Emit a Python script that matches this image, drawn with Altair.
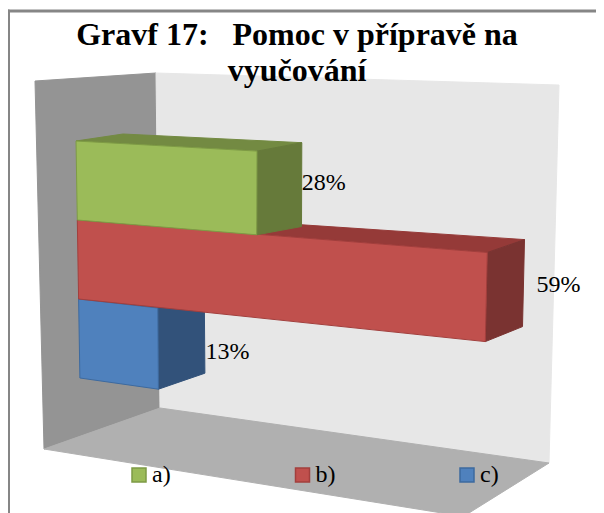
import altair as alt

# ---- values
categories = ["a)", "b)", "c)"]
percent = [28, 59, 13]
label_text = ["28%", "59%", "13%"]
title_lines = ["Gravf 17:\u00a0\u00a0\u00a0Pomoc v přípravě na", "vyučování"]

# ---- styling
front_fill = ["#9BBB59", "#C0504D", "#4F81BD"]
front_edge = ["#7E9B45", "#A23F3D", "#3D6A9F"]
top_fill = ["#738A42", "#953A38", "#3A6090"]
side_fill = ["#667A3A", "#7A3331", "#32527A"]
label_gap = [(0, -2), (13, 1), (1, 11)]
SERIF = "Liberation Serif"


def project(v, c, d):
    """Perspective of the 3D chart: value v (%), row edge c, depth d (0 front, 1 back)."""
    x = 76 + 1.3 * c + 5.976 * v + 0.01744 * v * v - 0.056 * v * c
    y = 141 + 79 * c + v * (0.34 + 0.17 * c + 0.0007 * v)
    if d:
        x += 47 - 0.0028 * v * v
        y -= 7 + 0.0017 * v * v + ([0, 0, 2, 8.7][c] if isinstance(c, int) else 0)
    return [round(x, 1), round(y, 1)]


def poly(key, pts):
    return {
        "type": "Feature",
        "properties": {"key": key},
        "geometry": {"type": "Polygon", "coordinates": [pts + [pts[0]]]},
    }


# Chart frame (walls and floor of the 3D box, outer picture border)
frame = [
    ("border", [[8, 10], [604, 10], [604, 12], [8, 12]]),
    ("border", [[8, 10], [9.5, 10], [9.5, 513], [8, 513]]),
    ("left wall", [[35, 81], [156, 73], [160, 408], [44, 449]]),
    ("back wall", [[156, 73], [559, 85], [549, 463], [160, 408]]),
    ("floor", [[44, 449], [160, 408], [549, 463], [469, 513], [442, 513]]),
]
features = [poly(k, p) for k, p in frame]

keys = ["a)", "b)", "c)", "a) top", "b) top", "c) top", "a) side", "b) side", "c) side",
        "border", "left wall", "back wall", "floor"]
frame_cols = ["#868686", "#949494", "#E7E7E7", "#B0B0B0"]
fills = front_fill + top_fill + side_fill + frame_cols
strokes = front_edge + top_fill + side_fill + frame_cols

# bars are drawn bottom row first so that upper rows cover their neighbours
for i in [2, 1, 0]:
    cat, v = categories[i], percent[i]
    features.append(poly(cat + " top", [project(0, i, 0), project(0, i, 1), project(v, i, 1), project(v, i, 0)]))
    features.append(poly(cat + " side", [project(v, i, 0), project(v, i, 1), project(v, i + 1, 1), project(v, i + 1, 0)]))
    features.append(poly(cat, [project(0, i, 0), project(v, i, 0), project(v, i + 1, 0), project(0, i + 1, 0)]))

legend = alt.Legend(
    values=categories, title=None, orient="none", legendX=119, legendY=455,
    direction="horizontal", columns=3, columnPadding=119.5, symbolType="square",
    symbolSize=196, symbolStrokeWidth=1.5, symbolOffset=0, labelFont=SERIF, labelFontSize=24,
    labelColor="#000000", labelOffset=1, labelLimit=100, symbolOpacity=1, padding=0,
)

shapes = (
    alt.Chart(alt.Data(values=features, format=alt.DataFormat(type="json")))
    .mark_geoshape(strokeWidth=1)
    .encode(
        fill=alt.Fill("properties.key:N", scale=alt.Scale(domain=keys, range=fills), legend=legend),
        stroke=alt.Stroke("properties.key:N", scale=alt.Scale(domain=keys, range=strokes), legend=legend),
    )
    .project(type="identity", scale=1, translate=[-8, -8])
)

rows = []
for i, (v, t) in enumerate(zip(percent, label_text)):
    base = project(v, i + 0.5, 1)
    rows.append({"x": base[0] + label_gap[i][0] - 8, "y": base[1] + label_gap[i][1] - 8, "t": t})

labels = (
    alt.Chart(alt.Data(values=rows))
    .mark_text(font=SERIF, fontSize=24, align="left", baseline="middle", color="#000000")
    .encode(
        x=alt.X("x:Q", scale=None, axis=None),
        y=alt.Y("y:Q", scale=None, axis=None),
        text="t:N",
    )
)

chart = (
    alt.layer(shapes, labels)
    .properties(
        width=588, height=505, padding=0, autosize="none",
        title=alt.TitleParams(
            text=title_lines, font=SERIF, fontSize=32, fontWeight="bold", color="#000000",
            anchor="middle", lineHeight=36, offset=-80, dx=-5,
        ),
    )
    .configure_view(stroke=None)
)
chart.save("out.html", embed_options={"renderer": "svg", "actions": False})
